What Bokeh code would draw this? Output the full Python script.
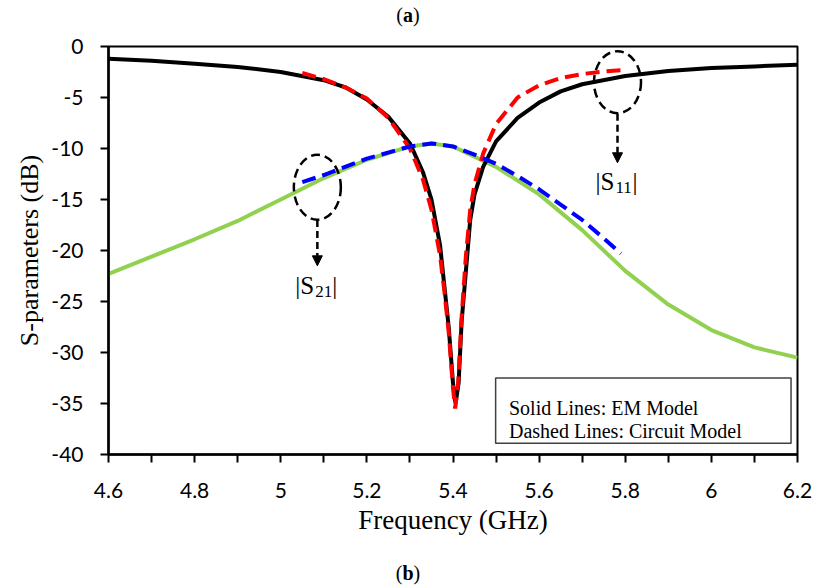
from bokeh.plotting import figure
from bokeh.models import Range1d, FixedTicker, Label, Arrow, NormalHead, Div
from bokeh.layouts import column
from bokeh.embed import file_html
from bokeh.resources import INLINE

# ---------------- data ----------------
# |S11| EM model (solid black)
f_s11_em = [4.6, 4.7, 4.8, 4.9, 5.0, 5.1, 5.15, 5.2, 5.25, 5.3, 5.33, 5.35, 5.37, 5.38, 5.39,
            5.40, 5.406, 5.413, 5.42, 5.43, 5.44, 5.45, 5.47, 5.5, 5.55, 5.6, 5.65, 5.7, 5.8,
            5.9, 6.0, 6.1, 6.2]
s11_em = [-1.2, -1.4, -1.7, -2.0, -2.5, -3.3, -4.0, -5.2, -6.9, -9.5, -12.3, -15.0, -19.5, -23.5, -27.5,
          -33.0, -35.0, -33.0, -27.0, -22.0, -17.0, -14.5, -11.8, -9.3, -7.0, -5.5, -4.4, -3.7, -2.9,
          -2.4, -2.1, -1.95, -1.8]

# |S11| circuit model (dashed red)
f_s11_ckt = [5.05, 5.1, 5.15, 5.2, 5.25, 5.3, 5.33, 5.35, 5.37, 5.38, 5.39, 5.40, 5.405, 5.412,
             5.42, 5.43, 5.44, 5.45, 5.47, 5.5, 5.55, 5.6, 5.65, 5.7, 5.75, 5.8]
s11_ckt = [-2.6, -3.2, -4.0, -5.1, -7.0, -10.0, -13.0, -16.0, -20.5, -24.0, -28.0, -33.5, -35.5, -33.0,
           -26.5, -20.5, -16.0, -13.5, -10.5, -7.6, -5.0, -3.8, -3.1, -2.7, -2.45, -2.3]

# |S21| EM model (solid green)
f_s21_em = [4.6, 4.7, 4.8, 4.9, 5.0, 5.1, 5.2, 5.3, 5.35, 5.4, 5.5, 5.6, 5.7, 5.8, 5.9, 6.0, 6.1, 6.2]
s21_em = [-22.3, -20.6, -18.9, -17.1, -15.0, -12.9, -11.1, -9.8, -9.5, -9.8, -11.8, -14.5, -18.0,
          -22.0, -25.3, -27.8, -29.5, -30.5]

# |S21| circuit model (dashed blue)
f_s21_ckt = [5.05, 5.1, 5.2, 5.3, 5.35, 5.4, 5.45, 5.5, 5.55, 5.6, 5.65, 5.7, 5.75, 5.79]
s21_ckt = [-13.3, -12.6, -11.0, -9.8, -9.5, -9.8, -10.6, -11.5, -12.7, -14.0, -15.5, -17.0, -18.8, -20.3]

x_ticks = [4.6, 4.8, 5.0, 5.2, 5.4, 5.6, 5.8, 6.0, 6.2]
x_tick_labels = ["4.6", "4.8", "5", "5.2", "5.4", "5.6", "5.8", "6", "6.2"]
x_minor = [4.7, 4.9, 5.1, 5.3, 5.5, 5.7, 5.9, 6.1]
y_ticks = [0, -5, -10, -15, -20, -25, -30, -35, -40]
y_tick_labels = ["0", "-5", "-10", "-15", "-20", "-25", "-30", "-35", "-40"]

SERIF = "Liberation Serif"
SANS = "Lato"

p = figure(width=816, height=528, output_backend="svg", toolbar_location=None, title=None,
           x_range=Range1d(4.6, 6.2), y_range=Range1d(-40, 0),
           min_border_left=108, min_border_right=19, min_border_top=16, min_border_bottom=104)
p.background_fill_color = "white"
p.border_fill_color = "white"
p.grid.visible = False
p.outline_line_color = "black"
p.outline_line_width = 2

# axes
p.xaxis.ticker = FixedTicker(ticks=x_ticks, minor_ticks=x_minor)
p.xaxis.major_label_overrides = {t: l for t, l in zip(x_ticks, x_tick_labels)}
p.yaxis.ticker = FixedTicker(ticks=y_ticks)
p.yaxis.major_label_overrides = {t: l for t, l in zip(y_ticks, y_tick_labels)}
for ax in (p.xaxis[0], p.yaxis[0]):
    ax.axis_line_width = 2.5
    ax.axis_line_color = "black"
    ax.major_tick_line_width = 2
    ax.minor_tick_line_width = 2
    ax.major_tick_in = 0
    ax.major_tick_out = 8
    ax.minor_tick_in = 0
    ax.minor_tick_out = 8
    ax.major_label_text_font = SANS
    ax.major_label_text_font_size = "21px"
    ax.major_label_text_color = "black"
    ax.axis_label_text_font = SERIF
    ax.axis_label_text_font_style = "normal"
    ax.axis_label_text_color = "black"
p.yaxis.minor_tick_line_color = None
p.xaxis.axis_label = "Frequency (GHz)"
p.yaxis.axis_label = "S-parameters (dB)"
p.xaxis.axis_label_text_font_size = "27px"
p.yaxis.axis_label_text_font_size = "26px"
p.xaxis.major_label_standoff = 20
p.yaxis.major_label_standoff = 17
p.xaxis.axis_label_standoff = 4
p.yaxis.axis_label_standoff = 4

# curves
p.line(f_s21_em, s21_em, line_color="#92D050", line_width=4)
p.line(f_s11_em, s11_em, line_color="black", line_width=4)
p.line(f_s11_ckt, s11_ckt, line_color="#FF0000", line_width=4, line_dash="14 7")
p.line(f_s21_ckt, s21_ckt, line_color="#0000FF", line_width=4, line_dash="14 7")

# annotation ellipses and arrows
p.ellipse(x=[5.085], y=[-13.8], width=47, height=65, width_units="screen", height_units="screen",
          fill_color=None, line_color="black", line_width=2.5, line_dash="9 5")
p.ellipse(x=[5.782], y=[-3.5], width=47, height=62, width_units="screen", height_units="screen",
          fill_color=None, line_color="black", line_width=2.5, line_dash="9 5")
p.add_layout(Arrow(end=NormalHead(size=10, fill_color="black", line_color="black"),
                   x_start=5.085, y_start=-17.0, x_end=5.085, y_end=-21.5,
                   line_width=2.5, line_dash="7 4", line_color="black"))
p.add_layout(Arrow(end=NormalHead(size=10, fill_color="black", line_color="black"),
                   x_start=5.782, y_start=-6.6, x_end=5.782, y_end=-11.4,
                   line_width=2.5, line_dash="7 4", line_color="black"))


def s_label(xc, y_base, sub):
    p.add_layout(Label(x=xc, y=y_base, x_offset=-22, text="|S", text_font=SERIF,
                       text_font_size="25px", text_align="left", text_baseline="alphabetic",
                       text_color="black"))
    p.add_layout(Label(x=xc, y=y_base - 0.6, x_offset=-2, text=sub, text_font=SERIF,
                       text_font_size="17px", text_align="left", text_baseline="alphabetic",
                       text_color="black"))
    p.add_layout(Label(x=xc, y=y_base, x_offset=15, text="|", text_font=SERIF,
                       text_font_size="25px", text_align="left", text_baseline="alphabetic",
                       text_color="black"))


s_label(5.085, -23.4, "21")
s_label(5.782, -13.2, "11")

# note box
p.quad(left=[5.499], right=[6.185], bottom=[-38.9], top=[-32.5], fill_color="white",
       line_color="#404040", line_width=1.5)
p.add_layout(Label(x=5.53, y=-35.4, text="Solid Lines: EM Model", text_font=SERIF,
                   text_font_size="20px", text_baseline="alphabetic", text_color="black"))
p.add_layout(Label(x=5.53, y=-37.7, text="Dashed Lines: Circuit Model", text_font=SERIF,
                   text_font_size="20px", text_baseline="alphabetic", text_color="black"))

cap_style = {"text-align": "center", "font-family": "'Liberation Serif', serif",
             "font-size": "20px", "line-height": "30px", "color": "black", "width": "816px"}
cap_a = Div(text="(<b>a</b>)", width=816, height=30, margin=0, styles=cap_style)
cap_b = Div(text="(<b>b</b>)", width=816, height=30, margin=0, styles=cap_style)

layout = column(cap_a, p, cap_b, spacing=0)
open("out.html", "w").write(file_html(layout, INLINE))
